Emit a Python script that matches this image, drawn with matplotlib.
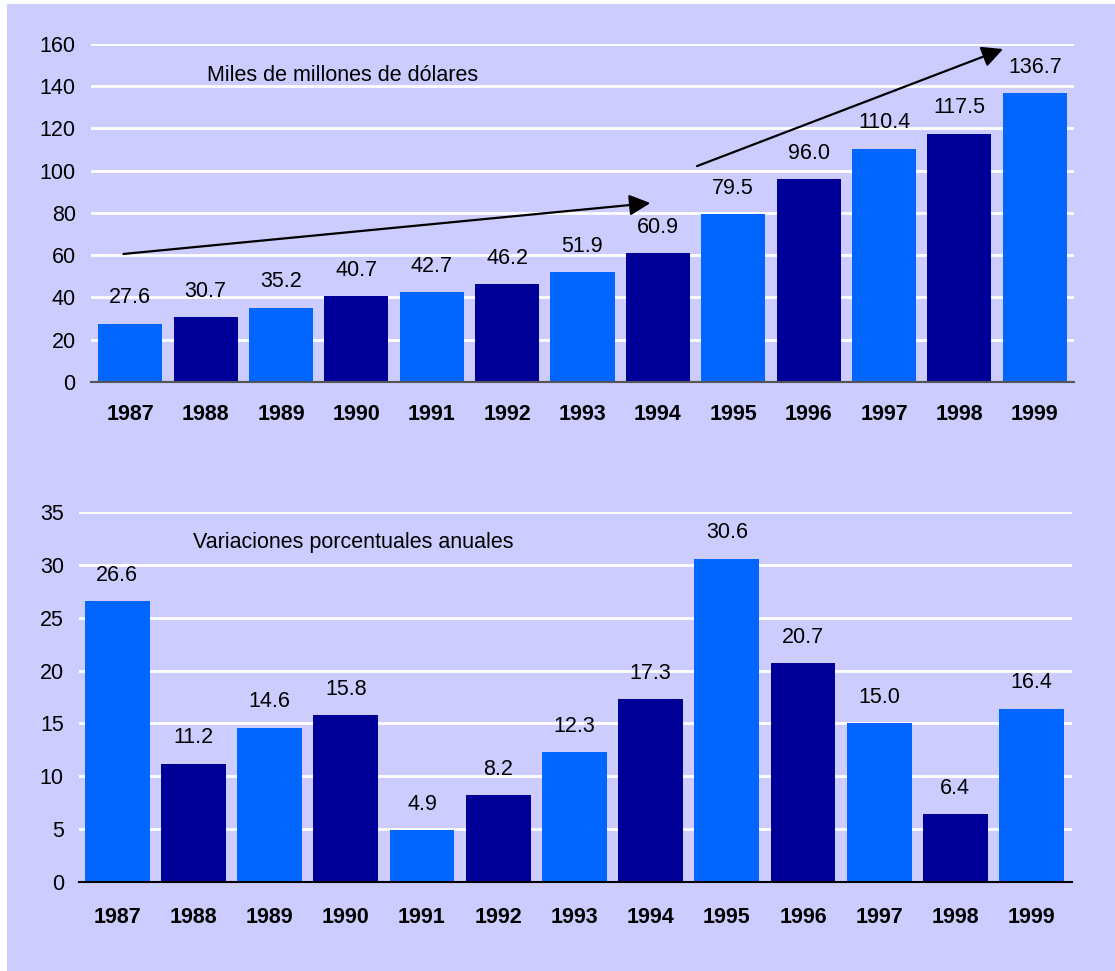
'''Exportaciones: niveles y variaciones anuales.'''

import matplotlib
matplotlib.use('Agg')
import matplotlib.pyplot as plt
from matplotlib.patches import Rectangle

# data
years = ['1987', '1988', '1989', '1990', '1991', '1992', '1993',
         '1994', '1995', '1996', '1997', '1998', '1999']
levels = [27.6, 30.7, 35.2, 40.7, 42.7, 46.2, 51.9,
          60.9, 79.5, 96.0, 110.4, 117.5, 136.7]
changes = [26.6, 11.2, 14.6, 15.8, 4.9, 8.2, 12.3,
           17.3, 30.6, 20.7, 15.0, 6.4, 16.4]

LIGHT, DARK, BG = '#0066FF', '#000099', '#CCCCFF'
colors = [LIGHT if i % 2 == 0 else DARK for i in range(len(years))]
FS = 15.5

plt.rcParams['font.family'] = ['Liberation Sans', 'DejaVu Sans']

fig = plt.figure(figsize=(11.15, 9.71), dpi=100, facecolor='white')
# lavender panel
fig.patches.append(Rectangle((7/1115, 0), 1, 967/971, transform=fig.transFigure,
                             facecolor=BG, edgecolor='none', zorder=-10))

ax_top = fig.add_axes([0.0816, 0.6066, 0.8816, 0.3481])
ax_bot = fig.add_axes([0.0709, 0.0917, 0.8905, 0.3810])


def style_axis(ax, values, ymax, step, axis_color, label_pad, xlim):
    '''Bars, value labels and axis style.'''
    x = range(len(values))
    ax.bar(x, values, width=0.85, color=colors, zorder=3)
    for xi, v in zip(x, values):
        ax.annotate(f'{v:.1f}', (xi, v), xytext=(0, 11), textcoords='offset points',
                    ha='center', va='bottom', fontsize=FS)
    ax.set_facecolor('none')
    ax.set_xlim(*xlim)
    ax.set_ylim(0, ymax)
    ax.set_yticks(range(0, ymax + 1, step))
    ax.set_xticks(list(x))
    ax.set_xticklabels(years, fontweight='bold', fontsize=FS)
    ax.grid(axis='y', color='white', linewidth=2, zorder=1)
    ax.set_axisbelow(True)
    for side in ('top', 'right', 'left'):
        ax.spines[side].set_visible(False)
    ax.spines['bottom'].set_color(axis_color)
    ax.spines['bottom'].set_linewidth(1.5)
    ax.spines['bottom'].set_zorder(4)
    ax.tick_params(axis='both', length=0, labelsize=FS)
    ax.tick_params(axis='x', pad=label_pad)
    ax.tick_params(axis='y', pad=11)


style_axis(ax_top, levels, 160, 20, '#555555', 16, (-0.52, 12.52))
style_axis(ax_bot, changes, 35, 5, 'black', 18, (-0.5, 12.53))

# captions
ax_top.text(1.02, 145.3, 'Miles de millones de dólares', fontsize=FS, va='center')
ax_bot.text(1.0, 32.1, 'Variaciones porcentuales anuales', fontsize=FS, va='center')

# trend arrows
arrow = dict(arrowstyle='-|>', mutation_scale=32, lw=1.6, color='black',
             shrinkA=0, shrinkB=0)
ax_top.annotate('', xy=(6.9, 84.7), xytext=(-0.09, 60.6), arrowprops=arrow, zorder=5)
ax_top.annotate('', xy=(11.58, 157.6), xytext=(7.52, 102.2), arrowprops=arrow, zorder=5)

fig.savefig('out.png', dpi=100, facecolor='white')
